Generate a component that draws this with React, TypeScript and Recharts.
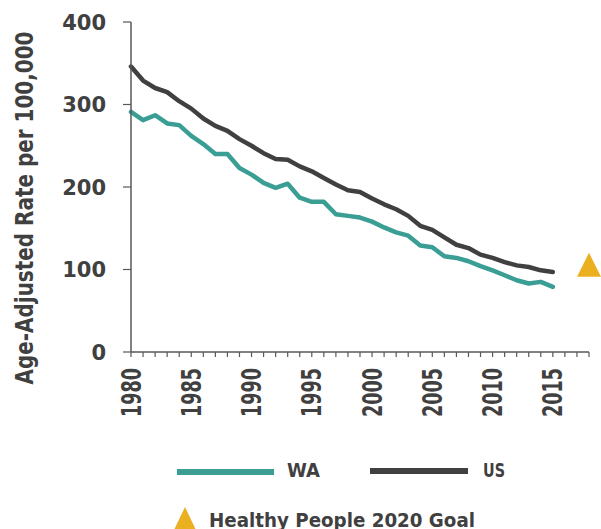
import {
  ComposedChart,
  Line,
  ReferenceDot,
  XAxis,
  YAxis,
} from "recharts";

const YEARS = [
  1980, 1981, 1982, 1983, 1984, 1985, 1986, 1987, 1988, 1989, 1990, 1991,
  1992, 1993, 1994, 1995, 1996, 1997, 1998, 1999, 2000, 2001, 2002, 2003,
  2004, 2005, 2006, 2007, 2008, 2009, 2010, 2011, 2012, 2013, 2014, 2015,
];

const WA = [
  291, 281, 287, 277, 275, 262, 252, 240, 240, 223, 215, 205, 199, 204, 187,
  182, 182, 167, 165, 163, 158, 151, 145, 141, 129, 127, 116, 114, 110, 104,
  99, 93, 87, 83, 85, 79,
];

const US = [
  346, 329, 320, 315, 304, 295, 283, 274, 268, 258, 250, 241, 234, 233, 225,
  219, 211, 203, 196, 194, 186, 179, 173, 165, 153, 148, 139, 130, 126, 118,
  114, 109, 105, 103, 99, 97,
];

// Healthy People 2020 goal, shown at the right end of the axis
const GOAL_YEAR = 2018;
const GOAL = 103.4;

const X_TICKS = [
  1980, 1981, 1982, 1983, 1984, 1985, 1986, 1987, 1988, 1989, 1990, 1991,
  1992, 1993, 1994, 1995, 1996, 1997, 1998, 1999, 2000, 2001, 2002, 2003,
  2004, 2005, 2006, 2007, 2008, 2009, 2010, 2011, 2012, 2013, 2014, 2015,
  2016, 2017, 2018,
];
const X_LABELS = [1980, 1985, 1990, 1995, 2000, 2005, 2010, 2015];
const Y_TICKS = [0, 100, 200, 300, 400];

const TEAL = "#3a9e94";
const DARK = "#404040";
const GOLD = "#ebb020";
const AXIS = "#595959";
const FONT = "'DejaVu Sans', sans-serif";

const data = YEARS.map((year, i) => ({ year, wa: WA[i], us: US[i] }));

function XTick(props: any) {
  const { x, payload } = props;
  if (!X_LABELS.includes(payload.value)) return null;
  return (
    <text
      transform={`translate(${x}, 368) rotate(-90)`}
      x={0}
      y={9.5}
      textAnchor="end"
      fontFamily={FONT}
      fontWeight={700}
      fontSize={26}
      textLength={49}
      lengthAdjust="spacingAndGlyphs"
      fill={DARK}
    >
      {payload.value}
    </text>
  );
}

function YTick(props: any) {
  const { x, y, payload } = props;
  return (
    <text
      x={x}
      y={y}
      dy="0.36em"
      textAnchor="end"
      fontFamily={FONT}
      fontWeight={700}
      fontSize={21}
      fill={DARK}
    >
      {payload.value}
    </text>
  );
}

function YLabel() {
  return (
    <text
      transform="translate(33, 208) rotate(-90)"
      textAnchor="middle"
      fontFamily={FONT}
      fontWeight={700}
      fontSize={25}
      textLength={353}
      lengthAdjust="spacingAndGlyphs"
      fill={DARK}
    >
      Age-Adjusted Rate per 100,000
    </text>
  );
}

function Triangle(props: any) {
  const { cx, cy } = props;
  return (
    <polygon
      points={`${cx},${cy - 14} ${cx - 12},${cy + 10} ${cx + 12},${cy + 10}`}
      fill={GOLD}
    />
  );
}

function LegendBox() {
  return (
    <svg
      width={601}
      height={80}
      style={{ position: "absolute", left: 0, top: 449 }}
    >
      <line x1={177} x2={274} y1={23} y2={23} stroke={TEAL} strokeWidth={6} />
      <text
        x={287}
        y={28}
        fontFamily={FONT}
        fontWeight={700}
        fontSize={20}
        textLength={33}
        lengthAdjust="spacingAndGlyphs"
        fill={DARK}
      >
        WA
      </text>
      <line x1={370} x2={468} y1={22} y2={22} stroke={DARK} strokeWidth={6} />
      <text
        x={483}
        y={28}
        fontFamily={FONT}
        fontWeight={700}
        fontSize={20}
        textLength={22}
        lengthAdjust="spacingAndGlyphs"
        fill={DARK}
      >
        US
      </text>
      <polygon points="185,58 174,81 196,81" fill={GOLD} />
      <text
        x={209}
        y={78}
        fontFamily={FONT}
        fontWeight={700}
        fontSize={20}
        textLength={266}
        lengthAdjust="spacingAndGlyphs"
        fill={DARK}
      >
        Healthy People 2020 Goal
      </text>
    </svg>
  );
}

export default function App() {
  return (
    <div
      style={{
        position: "absolute",
        left: 0,
        top: 0,
        width: 601,
        height: 529,
        background: "#fff",
        overflow: "hidden",
      }}
    >
      <ComposedChart
        width={601}
        height={529}
        data={data}
        margin={{ top: 22, right: 12, bottom: 117, left: 0 }}
      >
        <XAxis
          dataKey="year"
          type="number"
          domain={[1980, 2018]}
          ticks={X_TICKS}
          interval={0}
          height={60}
          tickSize={5}
          tick={<XTick />}
          axisLine={{ stroke: AXIS, strokeWidth: 1.5 }}
          tickLine={{ stroke: AXIS, strokeWidth: 1.2 }}
        />
        <YAxis
          type="number"
          domain={[0, 400]}
          ticks={Y_TICKS}
          width={131}
          tickSize={8}
          tickMargin={17}
          tick={<YTick />}
          axisLine={{ stroke: AXIS, strokeWidth: 1.5 }}
          tickLine={{ stroke: AXIS, strokeWidth: 1.2 }}
          label={<YLabel />}
        />
        <Line
          dataKey="us"
          stroke={DARK}
          strokeWidth={4.5}
          strokeLinecap="round"
          strokeLinejoin="round"
          dot={false}
          isAnimationActive={false}
        />
        <Line
          dataKey="wa"
          stroke={TEAL}
          strokeWidth={4.5}
          strokeLinecap="round"
          strokeLinejoin="round"
          dot={false}
          isAnimationActive={false}
        />
        <ReferenceDot
          x={GOAL_YEAR}
          y={GOAL}
          ifOverflow="visible"
          shape={<Triangle />}
        />
      </ComposedChart>
      <LegendBox />
    </div>
  );
}
